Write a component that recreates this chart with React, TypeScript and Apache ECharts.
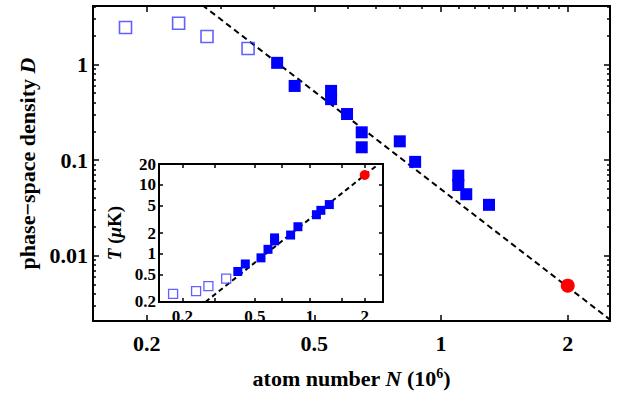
import React, { useEffect, useRef } from "react";
import * as echarts from "echarts";

// ---- data ----
const xRange = [0.149, 2.52];
const mainYRange = [0.00207, 4.09];
const insetYRange = [0.1995, 20.1];

const mainOpenN = [0.178, 0.238, 0.278, 0.348];
const mainOpenD = [2.44, 2.7, 1.96, 1.47];
const mainFilledN = [0.408, 0.449, 0.548, 0.548, 0.598, 0.648, 0.648, 0.798, 0.868, 1.099, 1.099, 1.148, 1.3];
const mainFilledD = [1.04, 0.596, 0.529, 0.434, 0.303, 0.195, 0.136, 0.157, 0.0957, 0.0686, 0.0548, 0.0439, 0.034];
const mainRedN = [2.0];
const mainRedD = [0.00485];
const mainFitN = [0.271, 2.52];
const mainFitD = [4.18, 0.00214];

const insetOpenN = [0.178, 0.238, 0.278, 0.348];
const insetOpenT = [0.261, 0.286, 0.34, 0.436];
const insetFilledN = [0.403, 0.443, 0.54, 0.59, 0.641, 0.641, 0.785, 0.861, 1.087, 1.15, 1.28];
const insetFilledT = [0.553, 0.711, 0.873, 1.16, 1.54, 1.7, 1.87, 2.47, 3.69, 4.27, 5.18];
const insetRedN = [2.0];
const insetRedT = [13.9];
const insetFitN = [0.268, 2.38];
const insetFitT = [0.2, 20];

// tick values
const mainXLabels = [0.2, 0.5, 1, 2];
const mainXTopMajor = [0.2, 0.5, 1, 1.5, 2];
const mainXTopMinor = [0.3, 0.4, 0.6, 0.7, 0.8, 0.9, 1.1, 1.2, 1.3, 1.4, 1.6, 1.7, 1.8, 1.9];
const mainYLabels = [0.01, 0.1, 1];
const mainYMinor = [0.003, 0.004, 0.005, 0.006, 0.007, 0.008, 0.009, 0.02, 0.03, 0.04, 0.05, 0.06, 0.07, 0.08, 0.09, 0.2, 0.3, 0.4, 0.5, 0.6, 0.7, 0.8, 0.9, 2, 3, 4];
const insetXLabels = [0.2, 0.5, 1, 2];
const insetXTicks = [0.2, 0.3, 0.5, 0.7, 1, 1.5, 2];
const insetYLabels = [0.2, 0.5, 1, 2, 5, 10, 20];

const FONT = "'Liberation Serif', 'Times New Roman', serif";

const zip = (a: number[], b: number[]) => a.map((v, i) => [v, b[i]]);
const fmt = (v: number) => String(+Number(v).toPrecision(3));

function axis(opts: any) {
  const {
    gridIndex, position, range, ticks, len, labels, labelSize, margin, name, nameGap, nameSize, z,
  } = opts;
  return {
    type: "log",
    logBase: 10,
    gridIndex,
    position,
    min: range[0],
    max: range[1],
    z: z ?? 0,
    axisLine: { show: false },
    splitLine: { show: false },
    axisTick: {
      show: true,
      inside: true,
      length: len,
      customValues: ticks,
      lineStyle: { color: "#000", width: 1.5 },
    },
    axisLabel: labels
      ? {
          show: true,
          customValues: labels,
          formatter: fmt,
          color: "#000",
          fontFamily: FONT,
          fontWeight: "bold",
          fontSize: labelSize,
          margin,
        }
      : { show: false },
    ...(name
      ? {
          name,
          nameLocation: "middle",
          nameGap,
          nameTextStyle: {
            color: "#000",
            fontFamily: FONT,
            fontWeight: "bold",
            fontSize: nameSize,
            rich: {
              i: { fontFamily: FONT, fontWeight: "bold", fontStyle: "italic", fontSize: nameSize, color: "#000" },
              s: { fontFamily: FONT, fontWeight: "bold", fontSize: Math.round(nameSize * 0.62), color: "#000", verticalAlign: "top", padding: [0, 0, 10, 0] },
            },
          },
        }
      : {}),
  };
}

export default function App() {
  const ref = useRef<HTMLDivElement>(null);
  useEffect(() => {
    if (!ref.current) return;
    const chart = echarts.init(ref.current, undefined, { renderer: "svg" });
    const option: any = {
      animation: false,
      backgroundColor: "#fff",
      grid: [
        { left: 93, top: 6, width: 517, height: 318, show: true, borderColor: "#000", borderWidth: 2, backgroundColor: "rgba(0,0,0,0)", z: 0 },
        { left: 159, top: 164, width: 224, height: 138, show: true, borderColor: "#000", borderWidth: 2, backgroundColor: "#fff", z: 5 },
      ],
      xAxis: [
        axis({ gridIndex: 0, position: "bottom", range: xRange, ticks: mainXLabels, len: 6, labels: mainXLabels, labelSize: 22, margin: 11, name: "atom number {i|N} (10{s|6})", nameGap: 45, nameSize: 22 }),
        axis({ gridIndex: 0, position: "top", range: xRange, ticks: mainXTopMajor, len: 6 }),
        axis({ gridIndex: 0, position: "top", range: xRange, ticks: mainXTopMinor, len: 3 }),
        axis({ gridIndex: 1, position: "bottom", range: xRange, ticks: insetXTicks, len: 4, labels: insetXLabels, labelSize: 17, margin: 6, z: 6 }),
        axis({ gridIndex: 1, position: "top", range: xRange, ticks: insetXTicks, len: 4, z: 6 }),
      ],
      yAxis: [
        axis({ gridIndex: 0, position: "left", range: mainYRange, ticks: mainYLabels, len: 6, labels: mainYLabels, labelSize: 22, margin: 5, name: "phase\u2212space density {i|D}", nameGap: 54, nameSize: 22 }),
        axis({ gridIndex: 0, position: "left", range: mainYRange, ticks: mainYMinor, len: 3 }),
        axis({ gridIndex: 0, position: "right", range: mainYRange, ticks: mainYLabels, len: 6 }),
        axis({ gridIndex: 0, position: "right", range: mainYRange, ticks: mainYMinor, len: 3 }),
        axis({ gridIndex: 1, position: "left", range: insetYRange, ticks: insetYLabels, len: 4, labels: insetYLabels, labelSize: 17, margin: 3, name: "{i|T} ({i|\u03bc}K)", nameGap: 35, nameSize: 19, z: 6 }),
        axis({ gridIndex: 1, position: "right", range: insetYRange, ticks: insetYLabels, len: 4, z: 6 }),
      ],
      series: [
        {
          type: "line", xAxisIndex: 0, yAxisIndex: 0, data: zip(mainFitN, mainFitD), showSymbol: false, z: 2,
          lineStyle: { color: "#000", width: 2, type: [6, 4] }, silent: true,
        },
        {
          type: "scatter", xAxisIndex: 0, yAxisIndex: 0, data: zip(mainOpenN, mainOpenD), symbol: "rect", symbolSize: 12, z: 3,
          itemStyle: { color: "rgba(255,255,255,0)", borderColor: "#3a3aff", borderWidth: 1.6 },
        },
        {
          type: "scatter", xAxisIndex: 0, yAxisIndex: 0, data: zip(mainFilledN, mainFilledD), symbol: "rect", symbolSize: 12, z: 3,
          itemStyle: { color: "#0000ff", opacity: 1 },
        },
        {
          type: "scatter", xAxisIndex: 0, yAxisIndex: 0, data: zip(mainRedN, mainRedD), symbol: "circle", symbolSize: 14, z: 3,
          itemStyle: { color: "#ff0000", opacity: 1 },
        },
        {
          type: "line", xAxisIndex: 3, yAxisIndex: 4, data: zip(insetFitN, insetFitT), showSymbol: false, z: 7,
          lineStyle: { color: "#000", width: 2, type: [5, 3.5] }, silent: true,
        },
        {
          type: "scatter", xAxisIndex: 3, yAxisIndex: 4, data: zip(insetOpenN, insetOpenT), symbol: "rect", symbolSize: 9, z: 8,
          itemStyle: { color: "rgba(255,255,255,0)", borderColor: "#3a3aff", borderWidth: 1.3 },
        },
        {
          type: "scatter", xAxisIndex: 3, yAxisIndex: 4, data: zip(insetFilledN, insetFilledT), symbol: "rect", symbolSize: 9, z: 8,
          itemStyle: { color: "#0000ff", opacity: 1 },
        },
        {
          type: "scatter", xAxisIndex: 3, yAxisIndex: 4, data: zip(insetRedN, insetRedT), symbol: "circle", symbolSize: 10, z: 8,
          itemStyle: { color: "#ff0000", opacity: 1 },
        },
      ],
    };
    chart.setOption(option);
    return () => chart.dispose();
  }, []);
  return (
    <div
      ref={ref}
      style={{ position: "absolute", left: 0, top: 0, width: 619, height: 394, background: "#fff" }}
    />
  );
}
